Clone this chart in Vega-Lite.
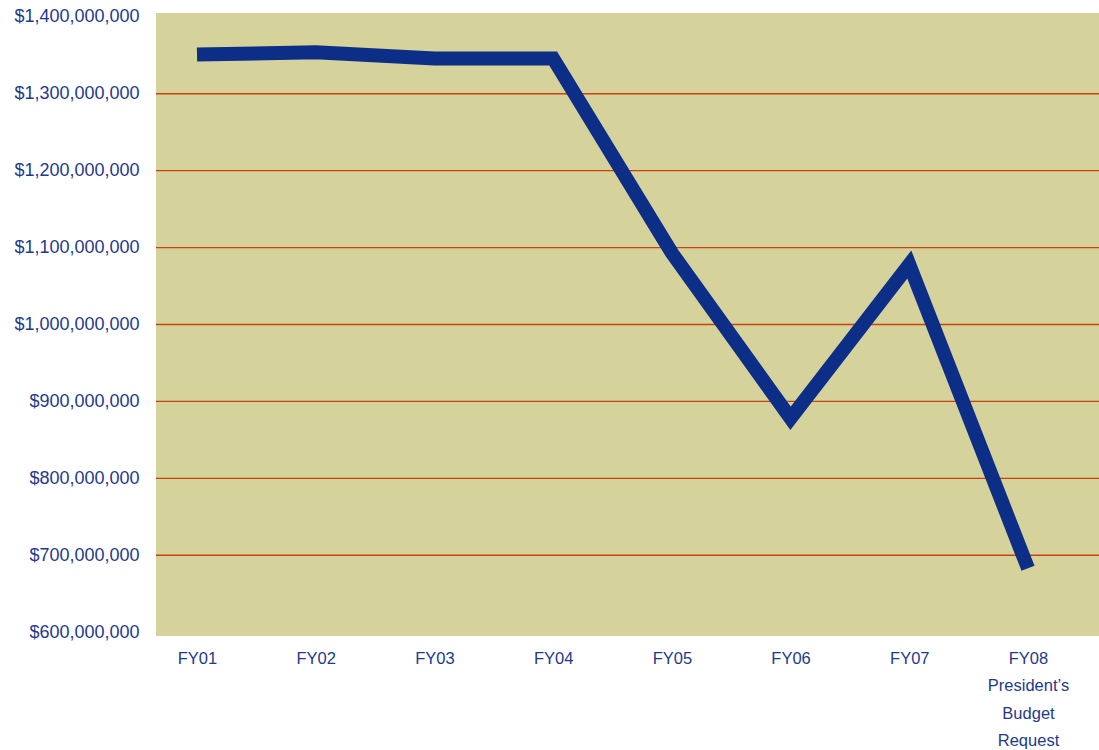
{
  "$schema": "https://vega.github.io/schema/vega-lite/v6.json",
  "width": 943,
  "height": 623,
  "autosize": {"type": "none"},
  "padding": {"left": 156, "top": 13, "right": 0, "bottom": 114},
  "background": "white",
  "config": {
    "view": {"fill": "#d5d29b", "stroke": null},
    "font": "Liberation Sans"
  },
  "datasets": {
    "budget": [
      {"year": "FY01", "value": 1351000000},
      {"year": "FY02", "value": 1354000000},
      {"year": "FY03", "value": 1346000000},
      {"year": "FY04", "value": 1346000000},
      {"year": "FY05", "value": 1093000000},
      {"year": "FY06", "value": 878000000},
      {"year": "FY07", "value": 1078000000},
      {"year": "FY08", "value": 683000000}
    ],
    "grid": [
      {"v": 700000000}, {"v": 800000000}, {"v": 900000000}, {"v": 1000000000},
      {"v": 1100000000}, {"v": 1200000000}, {"v": 1300000000}
    ]
  },
  "layer": [
    {
      "data": {"name": "grid"},
      "mark": {"type": "rule", "color": "#c9430f", "strokeWidth": 1.3},
      "encoding": {
        "y": {
          "field": "v", "type": "quantitative",
          "scale": {"domain": [595000000, 1405000000], "nice": false, "zero": false},
          "axis": {
            "title": null, "domain": false, "ticks": false, "grid": false,
            "values": [600000000, 700000000, 800000000, 900000000, 1000000000, 1100000000, 1200000000, 1300000000, 1400000000],
            "format": "$,.0f", "labelPadding": 17, "labelFontSize": 18, "labelColor": "#1e3a8c"
          }
        }
      }
    },
    {
      "data": {"name": "budget"},
      "mark": {"type": "line", "color": "#0d2e87", "strokeWidth": 14, "strokeCap": "butt", "strokeJoin": "miter"},
      "encoding": {
        "x": {
          "field": "year", "type": "ordinal", "sort": null,
          "scale": {"type": "point", "range": [41, 872], "padding": 0},
          "axis": {
            "title": null, "domain": false, "ticks": false, "labelAngle": 0,
            "labelPadding": 14, "labelFontSize": 16.5, "labelColor": "#1e3a8c",
            "labelLineHeight": 27.5, "labelBaseline": "top",
            "labelExpr": "datum.value == 'FY08' ? ['FY08', 'President’s', 'Budget', 'Request'] : datum.value"
          }
        },
        "y": {
          "field": "value", "type": "quantitative"
        }
      }
    }
  ]
}
